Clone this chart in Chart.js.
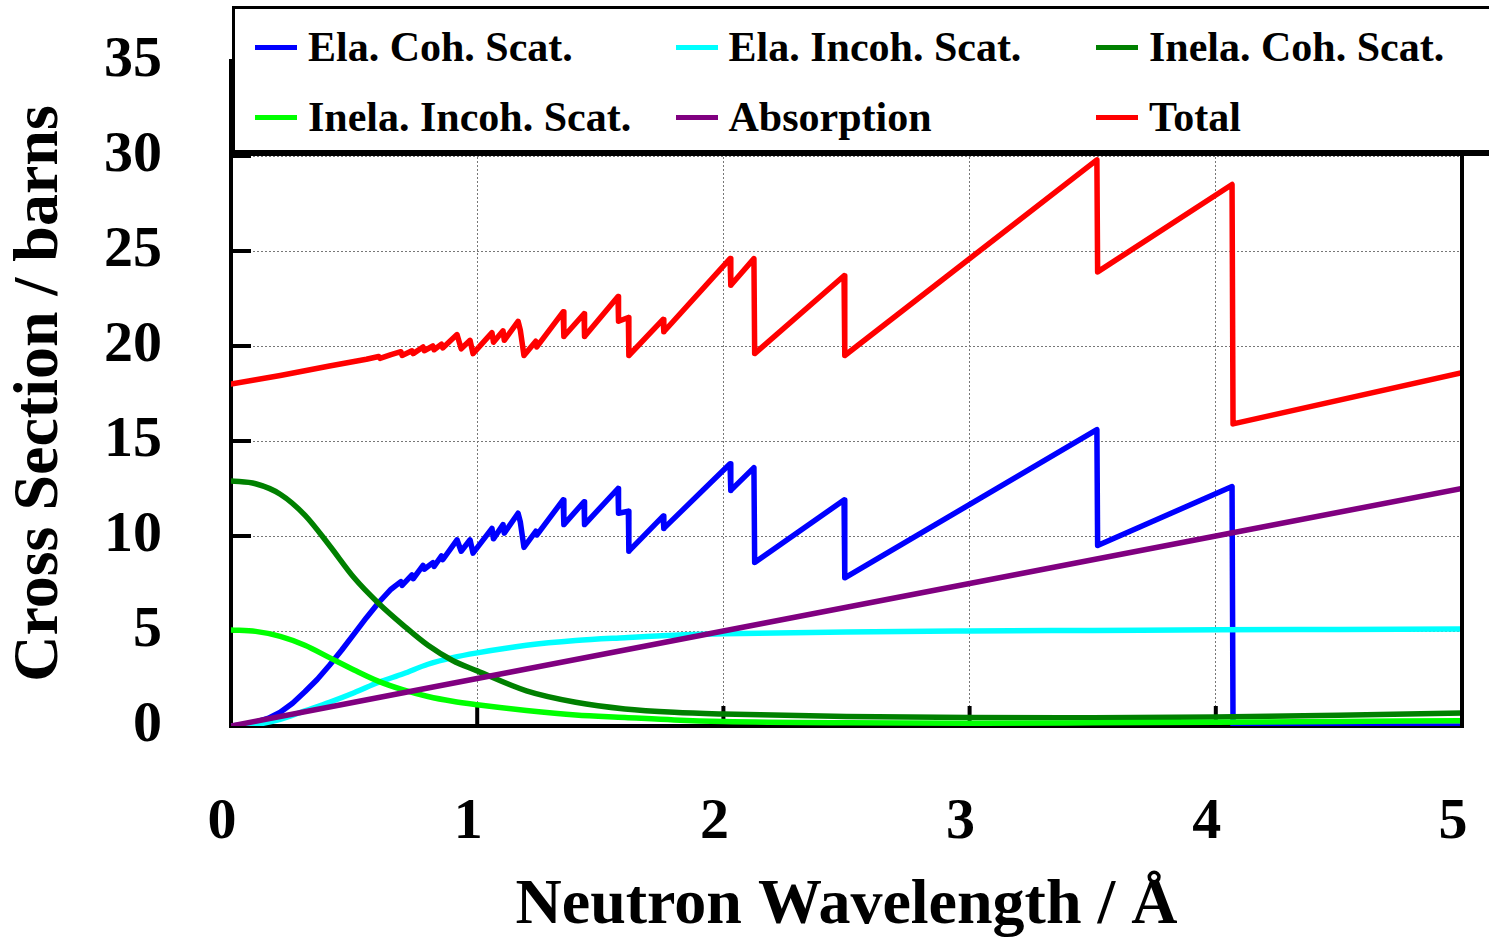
<!DOCTYPE html>
<html>
<head>
<meta charset="utf-8">
<title>Cross Section vs Neutron Wavelength</title>
<script src="https://cdn.jsdelivr.net/npm/chart.js@4.4.1/dist/chart.umd.min.js"></script>
<style>
    html, body { margin: 0; padding: 0; background: #fff; }
    #wrap { position: relative; width: 1489px; height: 940px; overflow: hidden; }
    #legend {
        position: absolute; left: 232px; top: 6px; width: 1300px; height: 141px;
        background: #fff; border: 3px solid #000; border-bottom-width: 6px;
        font-family: "Liberation Serif", "Times New Roman", serif; font-weight: bold; font-size: 42px;
    }
    .item { position: absolute; height: 70px; display: flex; align-items: center; white-space: nowrap; }
    .item .swatch { width: 42px; height: 5px; margin-right: 11px; }
</style>
</head>
<body>
<div id="wrap">
    <canvas id="chart" width="1489" height="940"></canvas>
    <div id="legend"></div>
</div>
<script>
// =======================
// Dados
// =======================
const legendLabels = ["Ela. Coh. Scat.", "Ela. Incoh. Scat.", "Inela. Coh. Scat.",
                      "Inela. Incoh. Scat.", "Absorption", "Total"];

// curvas suaves
const smoothX    = [0, 0.1, 0.2, 0.3, 0.4, 0.5, 0.6, 0.7, 0.8, 0.9, 1.0, 1.2, 1.4, 1.6, 1.8, 2.0, 2.5, 3.0, 3.5, 4.0, 4.5, 5.0];
const elaIncoh   = [0, 0.08, 0.35, 0.8, 1.25, 1.75, 2.3, 2.75, 3.25, 3.6, 3.85, 4.25, 4.5, 4.65, 4.78, 4.85, 4.95, 5.0, 5.03, 5.06, 5.08, 5.1];
const inelaCoh   = [12.9, 12.75, 12.2, 11.1, 9.5, 7.8, 6.45, 5.3, 4.25, 3.45, 2.9, 1.85, 1.25, 0.9, 0.72, 0.63, 0.5, 0.45, 0.44, 0.47, 0.56, 0.68];
const inelaIncoh = [5.05, 4.98, 4.72, 4.25, 3.6, 2.95, 2.35, 1.9, 1.55, 1.3, 1.12, 0.82, 0.58, 0.45, 0.32, 0.24, 0.17, 0.15, 0.17, 0.2, 0.24, 0.28];

const absorptionX = [0, 1, 2, 3, 4, 5];
const absorption  = [0, 2.5, 5.0, 7.5, 10.0, 12.5];

// bordas de Bragg (dente de serra)
const elaCohX = [0, 0.05, 0.1, 0.15, 0.2, 0.25, 0.3, 0.35, 0.4, 0.45, 0.5, 0.55, 0.6, 0.65,
                 0.69, 0.695, 0.735, 0.74, 0.78, 0.785, 0.82, 0.825, 0.855, 0.86, 0.918, 0.935, 0.971, 0.983,
                 1.06, 1.066, 1.105, 1.11, 1.166, 1.175, 1.19, 1.238, 1.242, 1.349, 1.352, 1.434, 1.436,
                 1.572, 1.574, 1.614, 1.616, 1.755, 1.758, 2.027, 2.03, 2.124, 2.127, 2.49, 2.493,
                 3.517, 3.52, 4.066, 4.07, 5.0];
const elaCoh  = [0, 0.06, 0.2, 0.4, 0.72, 1.2, 1.8, 2.45, 3.2, 4.0, 4.85, 5.7, 6.5, 7.2,
                 7.6, 7.4, 7.95, 7.75, 8.45, 8.25, 8.6, 8.4, 8.95, 8.75, 9.8, 9.2, 9.8, 9.1,
                 10.4, 9.85, 10.6, 10.15, 11.2, 10.75, 9.4, 10.25, 10.05, 11.9, 10.6, 11.8, 10.6,
                 12.5, 11.2, 11.3, 9.2, 11.05, 10.4, 13.8, 12.4, 13.6, 8.6, 11.9, 7.8,
                 15.6, 9.5, 12.6, 0, 0];

const totalX = [0, 0.2, 0.4, 0.55, 0.6, 0.605, 0.65,
                0.69, 0.695, 0.735, 0.74, 0.78, 0.785, 0.82, 0.825, 0.855, 0.86, 0.918, 0.935, 0.971, 0.983,
                1.06, 1.066, 1.105, 1.11, 1.166, 1.175, 1.19, 1.238, 1.242, 1.349, 1.352, 1.434, 1.436,
                1.572, 1.574, 1.614, 1.616, 1.755, 1.758, 2.027, 2.03, 2.124, 2.127, 2.49, 2.493,
                3.517, 3.52, 4.066, 4.07, 5.0];
const total  = [18.0, 18.45, 18.95, 19.3, 19.45, 19.35, 19.55,
                19.7, 19.5, 19.75, 19.6, 19.95, 19.75, 20.0, 19.8, 20.1, 19.9, 20.6, 19.85, 20.3, 19.6,
                20.7, 20.2, 20.8, 20.3, 21.3, 20.85, 19.5, 20.25, 19.95, 21.8, 20.5, 21.7, 20.5,
                22.6, 21.3, 21.5, 19.5, 21.4, 20.75, 24.6, 23.2, 24.6, 19.6, 23.7, 19.5,
                29.8, 23.9, 28.5, 15.9, 18.6];

const xTicks = [0, 1, 2, 3, 4, 5];
const yTicks = [0, 5, 10, 15, 20, 25, 30, 35];

const colors = ["#0000ff", "#00ffff", "#008000", "#00ff00", "#800080", "#ff0000"];

// =======================
// Utils
// =======================
function pts(xs, ys) {
    return xs.map((x, i) => ({ x: x, y: ys[i] }));
}

const FONT = "'Liberation Serif', 'Times New Roman', serif";

// ticks para dentro + borda direita
const framePlugin = {
    id: "frame",
    beforeDatasetsDraw(chart) {
        const { ctx, chartArea: a, scales } = chart;
        ctx.save();
        ctx.strokeStyle = "#000";
        ctx.lineWidth = 4;
        xTicks.slice(1, -1).forEach(v => {
            const px = scales.x.getPixelForValue(v);
            ctx.beginPath(); ctx.moveTo(px, a.bottom); ctx.lineTo(px, a.bottom - 20); ctx.stroke();
        });
        yTicks.slice(1, -1).forEach(v => {
            const py = scales.y.getPixelForValue(v);
            ctx.beginPath(); ctx.moveTo(a.left, py); ctx.lineTo(a.left + 20, py); ctx.stroke();
        });
        ctx.restore();
    },
    afterDatasetsDraw(chart) {
        const { ctx, chartArea: a } = chart;
        ctx.save();
        ctx.strokeStyle = "#000";
        ctx.lineWidth = 4;
        ctx.beginPath(); ctx.moveTo(a.right, a.top); ctx.lineTo(a.right, a.bottom + 2); ctx.stroke();
        ctx.beginPath(); ctx.moveTo(a.left, a.top); ctx.lineTo(a.right, a.top); ctx.stroke();
        ctx.restore();
    }
};

// =======================
// Gráfico
// =======================
const seriesData = [
    pts(elaCohX, elaCoh),
    pts(smoothX, elaIncoh),
    pts(smoothX, inelaCoh),
    pts(smoothX, inelaIncoh),
    pts(absorptionX, absorption),
    pts(totalX, total)
];

const datasets = seriesData.map((d, i) => ({
    label: legendLabels[i],
    data: d,
    borderColor: colors[i],
    backgroundColor: colors[i],
    borderWidth: 5.5,
    pointRadius: 0,
    fill: false,
    borderJoinStyle: "round",
    borderCapStyle: "round",
    cubicInterpolationMode: (i === 0 || i === 5) ? "default" : "monotone",
    tension: 0,
    order: 5 - i
}));

const chart = new Chart(document.getElementById("chart"), {
    type: "line",
    data: { datasets },
    plugins: [framePlugin],
    options: {
        responsive: false,
        animation: false,
        devicePixelRatio: 1,
        layout: { padding: { top: 61, right: 27, left: 0, bottom: 0 } },
        plugins: { legend: { display: false }, tooltip: { enabled: false } },
        scales: {
            x: {
                type: "linear", min: 0, max: 5,
                afterFit: s => { s.height = 214; s.paddingLeft = 0; s.paddingRight = 0; },
                afterBuildTicks: s => { s.ticks = xTicks.map(v => ({ value: v })); },
                grid: { color: "#777", lineWidth: 1, drawTicks: false },
                border: { color: "#000", width: 4, dash: [2, 2] },
                ticks: {
                    color: "#000", padding: 62, labelOffset: -9, maxRotation: 0,
                    font: { family: FONT, size: 58, weight: "bold" }
                },
                title: {
                    display: true, text: "Neutron Wavelength / Å", color: "#000",
                    padding: { top: 0, bottom: 2 },
                    font: { family: FONT, size: 64, weight: "bold", lineHeight: 1.0 }
                }
            },
            y: {
                type: "linear", min: 0, max: 35,
                afterFit: s => { s.width = 231; s.paddingTop = 0; s.paddingBottom = 0; },
                afterBuildTicks: s => { s.ticks = yTicks.map(v => ({ value: v })); },
                grid: { color: "#777", lineWidth: 1, drawTicks: false },
                border: { color: "#000", width: 4, dash: [2, 2] },
                ticks: {
                    color: "#000", padding: 69,
                    font: { family: FONT, size: 58, weight: "bold" }
                },
                title: {
                    display: true, text: "Cross Section / barns", color: "#000",
                    padding: { top: 2, bottom: 0 },
                    font: { family: FONT, size: 64, weight: "bold", lineHeight: 1.2 }
                }
            }
        }
    }
});

// legenda em 3 colunas, montada a partir dos datasets
const legendBox = document.getElementById("legend");
chart.data.datasets.forEach((ds, i) => {
    const col = i % 3, row = Math.floor(i / 3);
    const item = document.createElement("div");
    item.className = "item";
    item.style.left = (20 + col * 420.5) + "px";
    item.style.top = (3 + row * 70) + "px";
    item.innerHTML = `<span class="swatch" style="background:${ds.borderColor}"></span><span>${ds.label}</span>`;
    legendBox.appendChild(item);
});
</script>
</body>
</html>
